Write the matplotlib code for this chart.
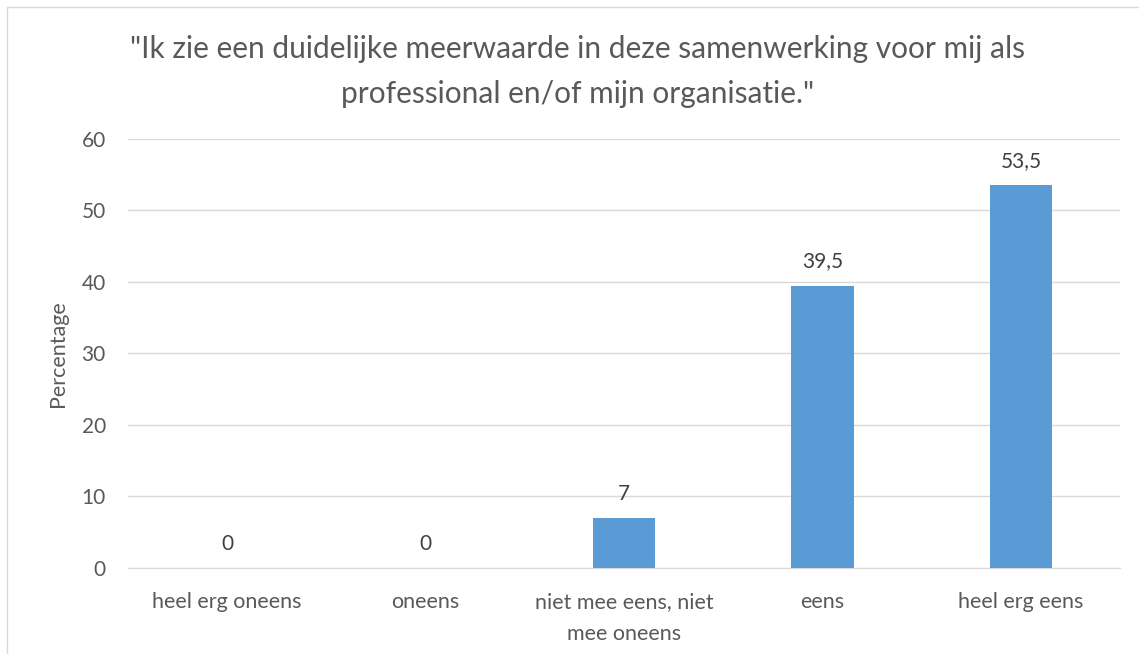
import matplotlib.pyplot as plt
from matplotlib.patches import Rectangle

categories = ['heel erg oneens', 'oneens', 'niet mee eens, niet\nmee oneens', 'eens', 'heel erg eens']
values = [0, 0, 7, 39.5, 53.5]
labels = ['0', '0', '7', '39,5', '53,5']

plt.rcParams['font.family'] = ['Lato', 'DejaVu Sans']
grey = '#595959'

fig = plt.figure(figsize=(11.39, 6.54), dpi=100)
ax = fig.add_axes([0.1124, 0.1315, 0.871, 0.656])

x = range(len(categories))
ax.bar(x, values, width=0.313, color='#5B9BD5', zorder=3)
for xi, v, lab in zip(x, values, labels):
    ax.text(xi, v + 2.0, lab, ha='center', va='bottom', fontsize=15, color='#404040')

ax.set_xlim(-0.5, len(categories) - 0.5)
ax.set_ylim(0, 60)
ax.set_yticks(range(0, 61, 10))
ax.set_xticks(list(x))
ax.set_xticklabels(categories, fontsize=15.5, color=grey, linespacing=1.75)
ax.tick_params(axis='y', labelsize=15, labelcolor=grey, length=0, pad=16)
ax.tick_params(axis='x', length=0, pad=17)
ax.yaxis.grid(True, color='#D9D9D9', linewidth=1, zorder=0)
for side in ['top', 'right', 'left']:
    ax.spines[side].set_visible(False)
ax.spines['bottom'].set_color('#D9D9D9')
ax.set_ylabel('Percentage', fontsize=15.5, color=grey, labelpad=10)

fig.suptitle('"Ik zie een duidelijke meerwaarde in deze samenwerking voor mij als\nprofessional en/of mijn organisatie."',
             x=0.507, y=0.947, fontsize=21.5, color=grey, linespacing=1.75)

fig.patches.append(Rectangle((0.006, -0.01), 1.0, 1.0, transform=fig.transFigure,
                             fill=False, edgecolor='#D9D9D9', linewidth=1))

fig.savefig('out.png', dpi=100)
